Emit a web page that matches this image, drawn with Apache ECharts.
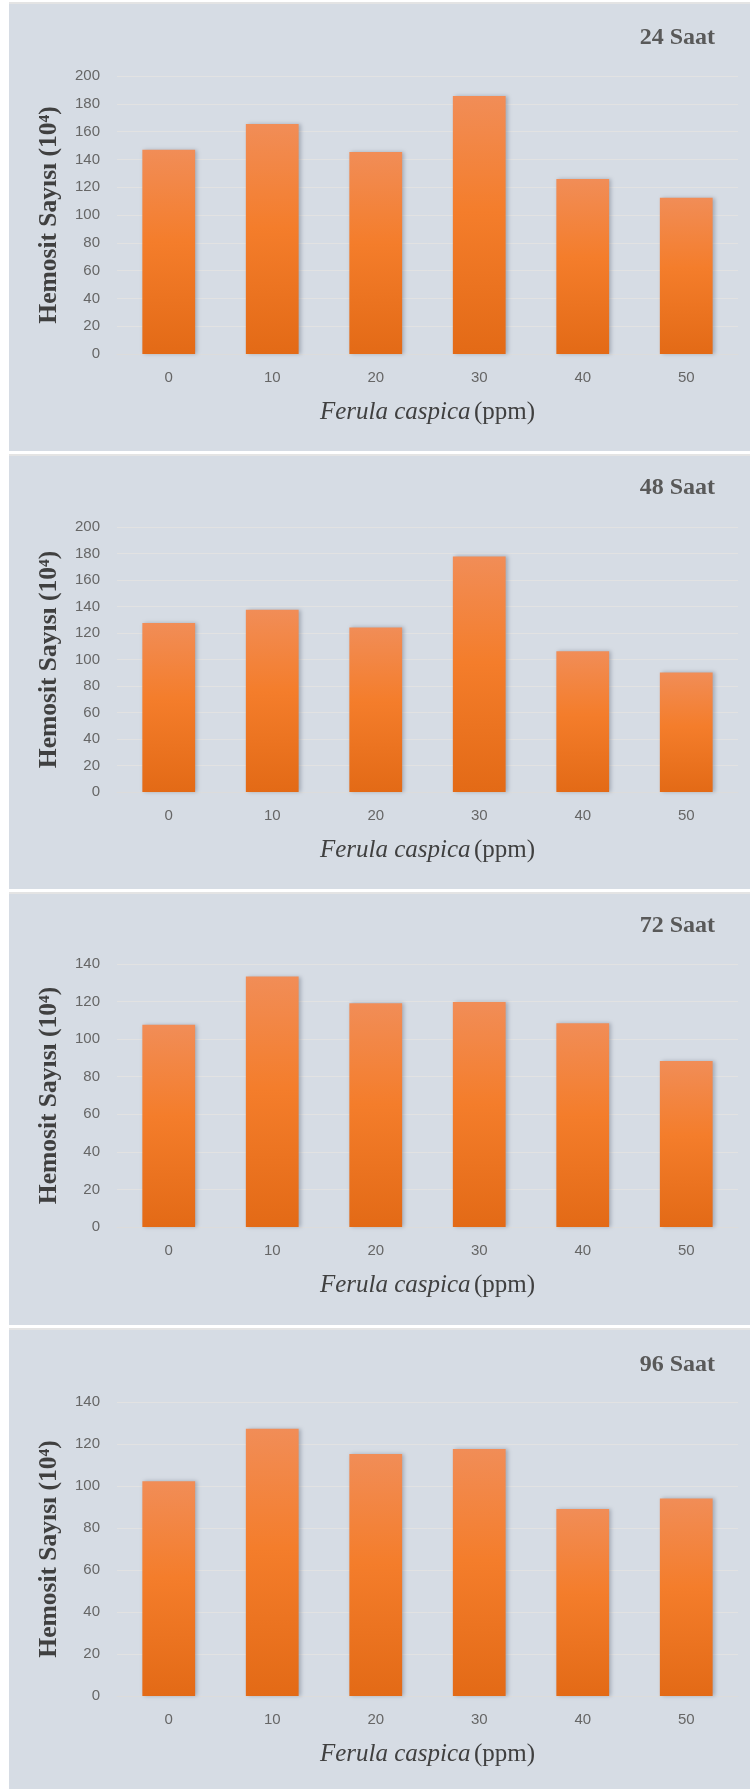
<!DOCTYPE html>
<html>
<head>
<meta charset="utf-8">
<script src="https://cdn.jsdelivr.net/npm/echarts@6/dist/echarts.min.js"></script>
<style>
html,body{margin:0;padding:0;background:#ffffff;}
#chart{width:750px;height:1789px;}
</style>
</head>
<body>
<div id="chart"></div>
<script>
// ---- data ----
const categories = ['0', '10', '20', '30', '40', '50'];
const panelTitles = ['24 Saat', '48 Saat', '72 Saat', '96 Saat'];
const values24 = [147, 165.5, 145.3, 185.6, 125.9, 112.5];
const values48 = [127.5, 137.5, 124.2, 177.8, 106.3, 90.2];
const values72 = [107.7, 133.3, 119.1, 119.8, 108.5, 88.4];
const values96 = [102.3, 127.3, 115.2, 117.6, 89.1, 94.1];
const yMaxes = [200, 200, 140, 140];
const yInterval = 20;
const yAxisTitle = 'Hemosit Sayısı (10⁴)';
const xAxisTitleItalic = 'Ferula caspica';
const xAxisTitleUnit = '(ppm)';

// ---- layout (styles only) ----
const panels = [
  {top: 4, bottom: 451, gridTop: 76, gridH: 278, titleTop: 21},
  {top: 456, bottom: 889, gridTop: 527, gridH: 265, titleTop: 471},
  {top: 894, bottom: 1325, gridTop: 964, gridH: 263, titleTop: 909},
  {top: 1330, bottom: 1789, gridTop: 1402, gridH: 294, titleTop: 1348}
];
const seriesValues = [values24, values48, values72, values96];

const barColor = new echarts.graphic.LinearGradient(0, 0, 0, 1, [
  {offset: 0, color: '#F18D57'},
  {offset: 0.45, color: '#F47D2B'},
  {offset: 1, color: '#E36A16'}
]);

const graphic = [];
panels.forEach(p => {
  graphic.push({type: 'rect', z: -10, shape: {x: 9, y: p.top - 2, width: 741, height: 2}, style: {fill: '#e4e4e4'}});
  graphic.push({type: 'rect', z: -10, shape: {x: 9, y: p.top, width: 741, height: p.bottom - p.top}, style: {fill: '#D6DCE4'}});
});

const option = {
  animation: false,
  backgroundColor: '#ffffff',
  graphic: graphic,
  title: panels.map((p, i) => ({
    text: panelTitles[i], right: 30, top: p.titleTop,
    textStyle: {fontFamily: 'Liberation Serif', fontWeight: 'bold', fontSize: 24, color: '#595959'}
  })),
  grid: panels.map(p => ({left: 117, width: 621, top: p.gridTop, height: p.gridH, containLabel: false})),
  xAxis: panels.map((p, i) => ({
    type: 'category', gridIndex: i, data: categories,
    axisLine: {show: true, lineStyle: {color: '#dcdcdc', width: 1}},
    axisTick: {show: false},
    axisLabel: {margin: 16, fontFamily: 'Liberation Sans', fontSize: 15, color: '#666666'},
    name: '{i|' + xAxisTitleItalic + '} {n|' + xAxisTitleUnit + '}',
    nameLocation: 'middle', nameGap: 46,
    nameTextStyle: {
      rich: {
        i: {fontFamily: 'Liberation Serif', fontStyle: 'italic', fontSize: 25, color: '#404040'},
        n: {fontFamily: 'Liberation Serif', fontSize: 25, color: '#404040'}
      }
    }
  })),
  yAxis: panels.map((p, i) => ({
    type: 'value', gridIndex: i, min: 0, max: yMaxes[i], interval: yInterval,
    axisLine: {show: false}, axisTick: {show: false},
    splitLine: {show: true, lineStyle: {color: '#e2e2e2', width: 1}},
    axisLabel: {margin: 17, fontFamily: 'Liberation Sans', fontSize: 15, color: '#666666'},
    name: yAxisTitle, nameLocation: 'middle', nameGap: 55,
    nameTextStyle: {fontFamily: 'Liberation Serif', fontWeight: 'bold', fontSize: 25.5, color: '#404040'}
  })),
  series: seriesValues.map((vals, i) => ({
    type: 'bar', xAxisIndex: i, yAxisIndex: i, data: vals,
    barCategoryGap: '49%',
    itemStyle: {color: barColor, shadowColor: 'rgba(70,80,100,0.35)', shadowBlur: 4, shadowOffsetX: 2, shadowOffsetY: 0}
  }))
};

const chart = echarts.init(document.getElementById('chart'), null, {renderer: 'canvas'});
chart.setOption(option);
</script>
</body>
</html>
